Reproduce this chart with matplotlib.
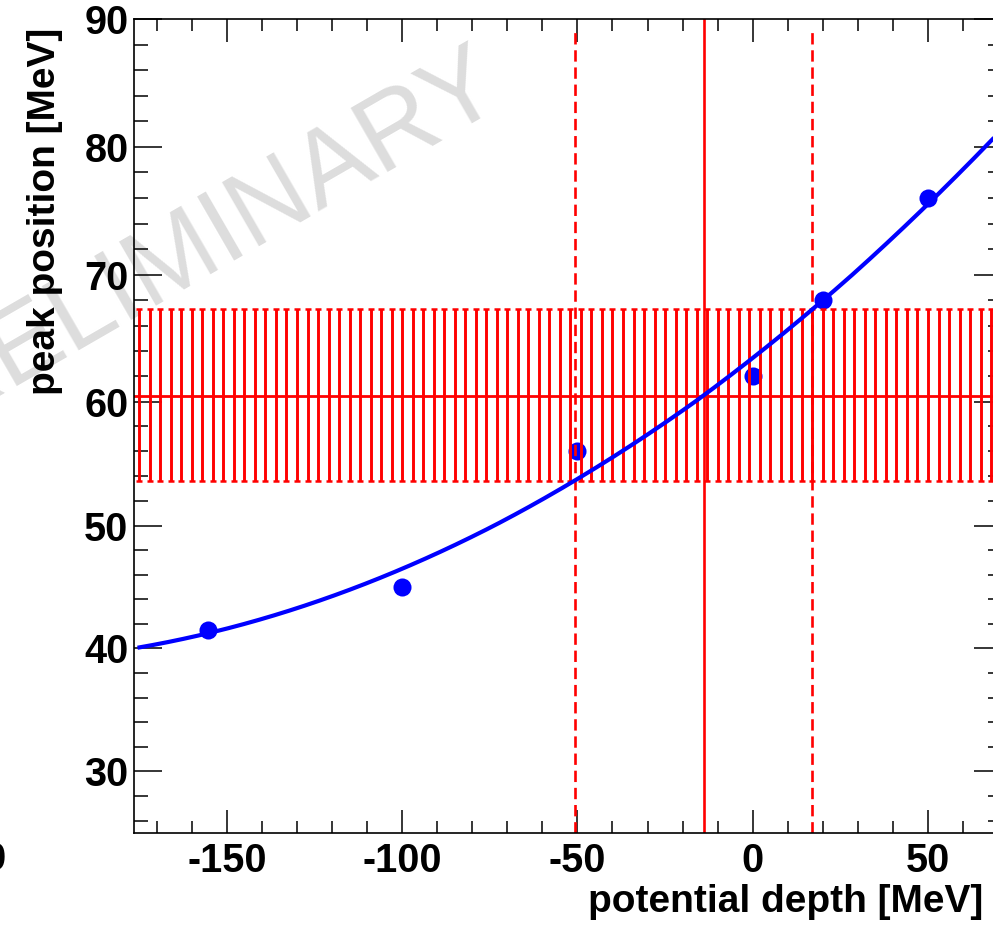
import numpy as np
import matplotlib
matplotlib.use("Agg")
import matplotlib.pyplot as plt
from matplotlib.ticker import MultipleLocator, FixedLocator

plt.rcParams['font.family'] = ['Liberation Sans', 'DejaVu Sans']

# measured peak positions vs. potential depth
depth = [-155.5, -100.0, -50.0, 0.0, 20.0, 50.0]
peak = [41.5, 45.0, 56.0, 62.0, 68.0, 76.0]

# second-order polynomial fit: p0 + p1*x + p2*x^2
fit_p = [63.45, 0.2176, 0.00048]

# observed peak position and its uncertainty
obs_peak = 60.45
obs_err = 6.85

depth_best = -14.0
depth_low = -50.7
depth_high = 16.9

xtick_vals = [-150, -100, -50, 0, 50]
xtick_labels = ['-150', '-100', '-50', '0', '50']
ytick_vals = [30, 40, 50, 60, 70, 80, 90]
ytick_labels = ['30', '40', '50', '60', '70', '80', '90']

x_range = (-176.5, 71.0)
y_range = (25.0, 90.0)

# vertical axis calibration (value -> height above the frame bottom, px)
y_cal_val = [25.0, 30.0, 40.0, 50.0, 60.0, 70.0, 80.0, 90.0]
y_cal_pix = [0.0, 62.0, 185.0, 307.6, 431.6, 558.3, 686.6, 814.3]


def y_fwd(v):
    return np.interp(v, y_cal_val, y_cal_pix)


def y_inv(p):
    return np.interp(p, y_cal_pix, y_cal_val)


W, H = 993, 944
fig = plt.figure(figsize=(W / 100, H / 100), dpi=100)
fig.patch.set_facecolor('white')

# frame placed in pixel units; right edge runs just past the canvas
left, right, top, bottom = 134.0, 1001.6, 19.0, 833.3
ax = fig.add_axes([left / W, 1 - bottom / H, (right - left) / W, (bottom - top) / H])
ax.set_facecolor('none')
ax.set_yscale('function', functions=(y_fwd, y_inv))
ax.set_xlim(*x_range)
ax.set_ylim(*y_range)

# watermark behind the frame
fig.text(193 / W, 1 - 279 / H, 'PRELIMINARY', rotation=30, rotation_mode='anchor',
         ha='center', va='baseline', fontsize=77, color='#dddddd',
         fontweight='normal', zorder=-1)

# data points
ax.plot(depth, peak, 'o', color='blue', markersize=13, markeredgewidth=0, zorder=2)

# observed band drawn as binned error bars
band_x = np.arange(-175, x_range[1], 3)
ax.errorbar(band_x, np.full(band_x.shape, obs_peak), yerr=obs_err, fmt='none',
            ecolor='red', elinewidth=2.1, capsize=2.0, capthick=1.8, zorder=3)
ax.axhline(obs_peak, color='red', lw=2.0, zorder=3)

# best value and interval in potential depth
ax.plot([depth_best, depth_best], list(y_range), color='red', lw=1.9, zorder=3)
for xv in (depth_low, depth_high):
    ax.plot([xv, xv], [y_range[0], 89.4], color='red', lw=1.9,
            dashes=(4.3, 2.2), zorder=3)

# fitted curve
xf = np.linspace(-175.5, x_range[1], 400)
yf = fit_p[0] + fit_p[1] * xf + fit_p[2] * xf ** 2
ax.plot(xf, yf, color='blue', lw=3.0, zorder=4, solid_capstyle='butt')

# axes styling
for sp in ax.spines.values():
    sp.set_linewidth(1.2)
    sp.set_zorder(5)

ax.xaxis.set_major_locator(FixedLocator(xtick_vals))
ax.xaxis.set_minor_locator(MultipleLocator(10))
ax.yaxis.set_major_locator(FixedLocator(ytick_vals))
ax.yaxis.set_minor_locator(FixedLocator(np.arange(26, 90, 2)))
ax.set_xticklabels(xtick_labels, fontweight='bold', fontsize=28.5)
ax.set_yticklabels(ytick_labels, fontweight='bold', fontsize=28.5)

ax.tick_params(axis='x', which='major', direction='in', length=16.3, width=1.1,
               top=True, bottom=True, pad=6)
ax.tick_params(axis='x', which='minor', direction='in', length=8.4, width=1.1,
               top=True, bottom=True)
ax.tick_params(axis='y', which='major', direction='in', length=20.4, width=1.1,
               left=True, right=True, pad=4)
ax.tick_params(axis='y', which='minor', direction='in', length=10, width=1.1,
               left=True, right=True)

# axis titles, right-aligned at the axis ends
fig.text(983 / W, 1 - 912 / H, 'potential depth [MeV]', ha='right', va='baseline',
         fontsize=28, fontweight='bold')
fig.text(55 / W, 1 - 28 / H, 'peak position [MeV]', ha='right', va='baseline',
         rotation=90, rotation_mode='anchor', fontsize=28, fontweight='bold')

# edge of a neighbouring label
fig.text(6 / W, 1 - 870 / H, '0', ha='right', va='baseline', fontsize=27.5,
         fontweight='bold')

fig.savefig('out.png', dpi=100)
